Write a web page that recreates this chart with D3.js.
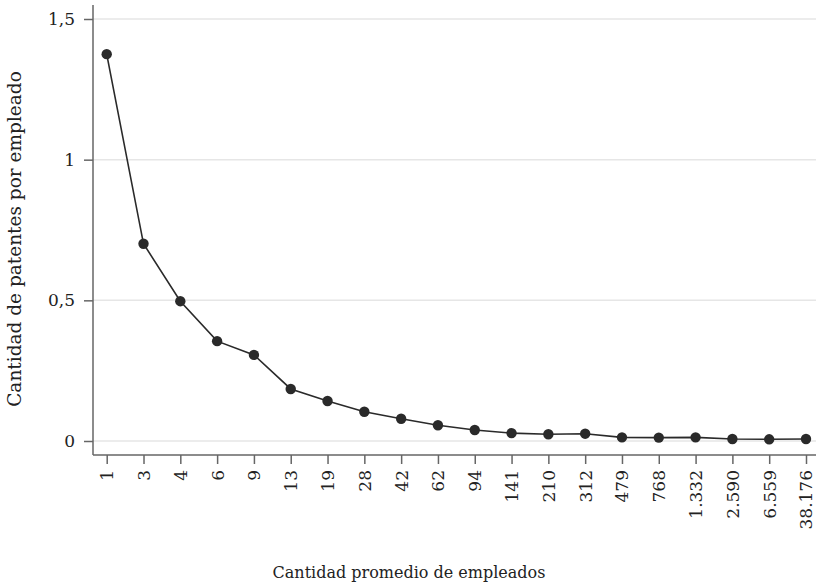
<!DOCTYPE html>
<html><head><meta charset="utf-8">
<script src="https://cdn.jsdelivr.net/npm/d3@7"></script>
<style>
html,body{margin:0;padding:0;background:#fff;}
svg{display:block;}
</style></head>
<body>
<svg id="c" width="816" height="585"></svg>
<script>
const categories = ["1","3","4","6","9","13","19","28","42","62","94","141","210","312","479","768","1.332","2.590","6.559","38.176"];
const values = [1.375,0.701,0.497,0.355,0.306,0.185,0.142,0.104,0.079,0.056,0.039,0.028,0.024,0.026,0.013,0.012,0.013,0.007,0.006,0.007];
const yTicks = [0,0.5,1,1.5];
const yTickLabels = ["0","0,5","1","1,5"];
const xTitle = "Cantidad promedio de empleados";
const yTitle = "Cantidad de patentes por empleado";

(function(){
const font = "'DejaVu Serif', 'Liberation Serif', serif";
const svg = d3.select("#c");
const mLeft = 93, mRight = 816, mTop = 5, axisY = 455;

const x = d3.scalePoint().domain(categories).range([106.7, 806]);
const y = d3.scaleLinear().domain([0,1.5]).range([441, 19]);

// gridlines
svg.append("g").selectAll("line").data(yTicks).join("line")
  .attr("x1", mLeft).attr("x2", mRight)
  .attr("y1", d=>y(d)).attr("y2", d=>y(d))
  .attr("stroke", "#e6e6e6").attr("stroke-width", 1.5);

// y axis
const yAxis = svg.append("g").attr("transform", `translate(${mLeft},0)`)
  .call(d3.axisLeft(y).tickValues(yTicks).tickSize(9).tickPadding(9)
    .tickFormat((d,i)=>yTickLabels[i]));
yAxis.select(".domain").attr("d", `M0,${mTop}V${axisY}`).attr("stroke","#666").attr("stroke-width",1.5);
yAxis.selectAll(".tick line").attr("stroke","#666").attr("stroke-width",1.5);
yAxis.selectAll(".tick text").attr("font-family", font).attr("font-size", 17).attr("fill","#222");

// x axis
const xAxis = svg.append("g").attr("transform", `translate(0,${axisY})`)
  .call(d3.axisBottom(x).tickSize(9).tickPadding(5));
xAxis.select(".domain").attr("d", `M${mLeft},0H${mRight}`).attr("stroke","#666").attr("stroke-width",1.5);
xAxis.selectAll(".tick line").attr("stroke","#666").attr("stroke-width",1.5);
xAxis.selectAll(".tick text")
  .attr("font-family", font).attr("font-size", 17).attr("fill","#222")
  .attr("transform","rotate(-90)")
  .attr("text-anchor","end")
  .attr("x", -15).attr("y", 0).attr("dy","0.35em");

// line
svg.append("path")
  .datum(values)
  .attr("fill","none").attr("stroke","#2a2a2a").attr("stroke-width",1.6)
  .attr("d", d3.line().x((d,i)=>x(categories[i])).y(d=>y(d)));

svg.append("g").selectAll("circle").data(values).join("circle")
  .attr("cx",(d,i)=>x(categories[i])).attr("cy",d=>y(d)).attr("r",5.2)
  .attr("fill","#2a2a2a");

// titles
svg.append("text").attr("x", 409).attr("y", 578)
  .attr("text-anchor","middle").attr("font-family", font).attr("font-size", 16).attr("fill","#222")
  .text(xTitle);
svg.append("text").attr("transform","translate(21,239) rotate(-90)")
  .attr("text-anchor","middle").attr("font-family", font).attr("font-size", 18.5).attr("fill","#222")
  .text(yTitle);
})();
</script>
</body></html>
